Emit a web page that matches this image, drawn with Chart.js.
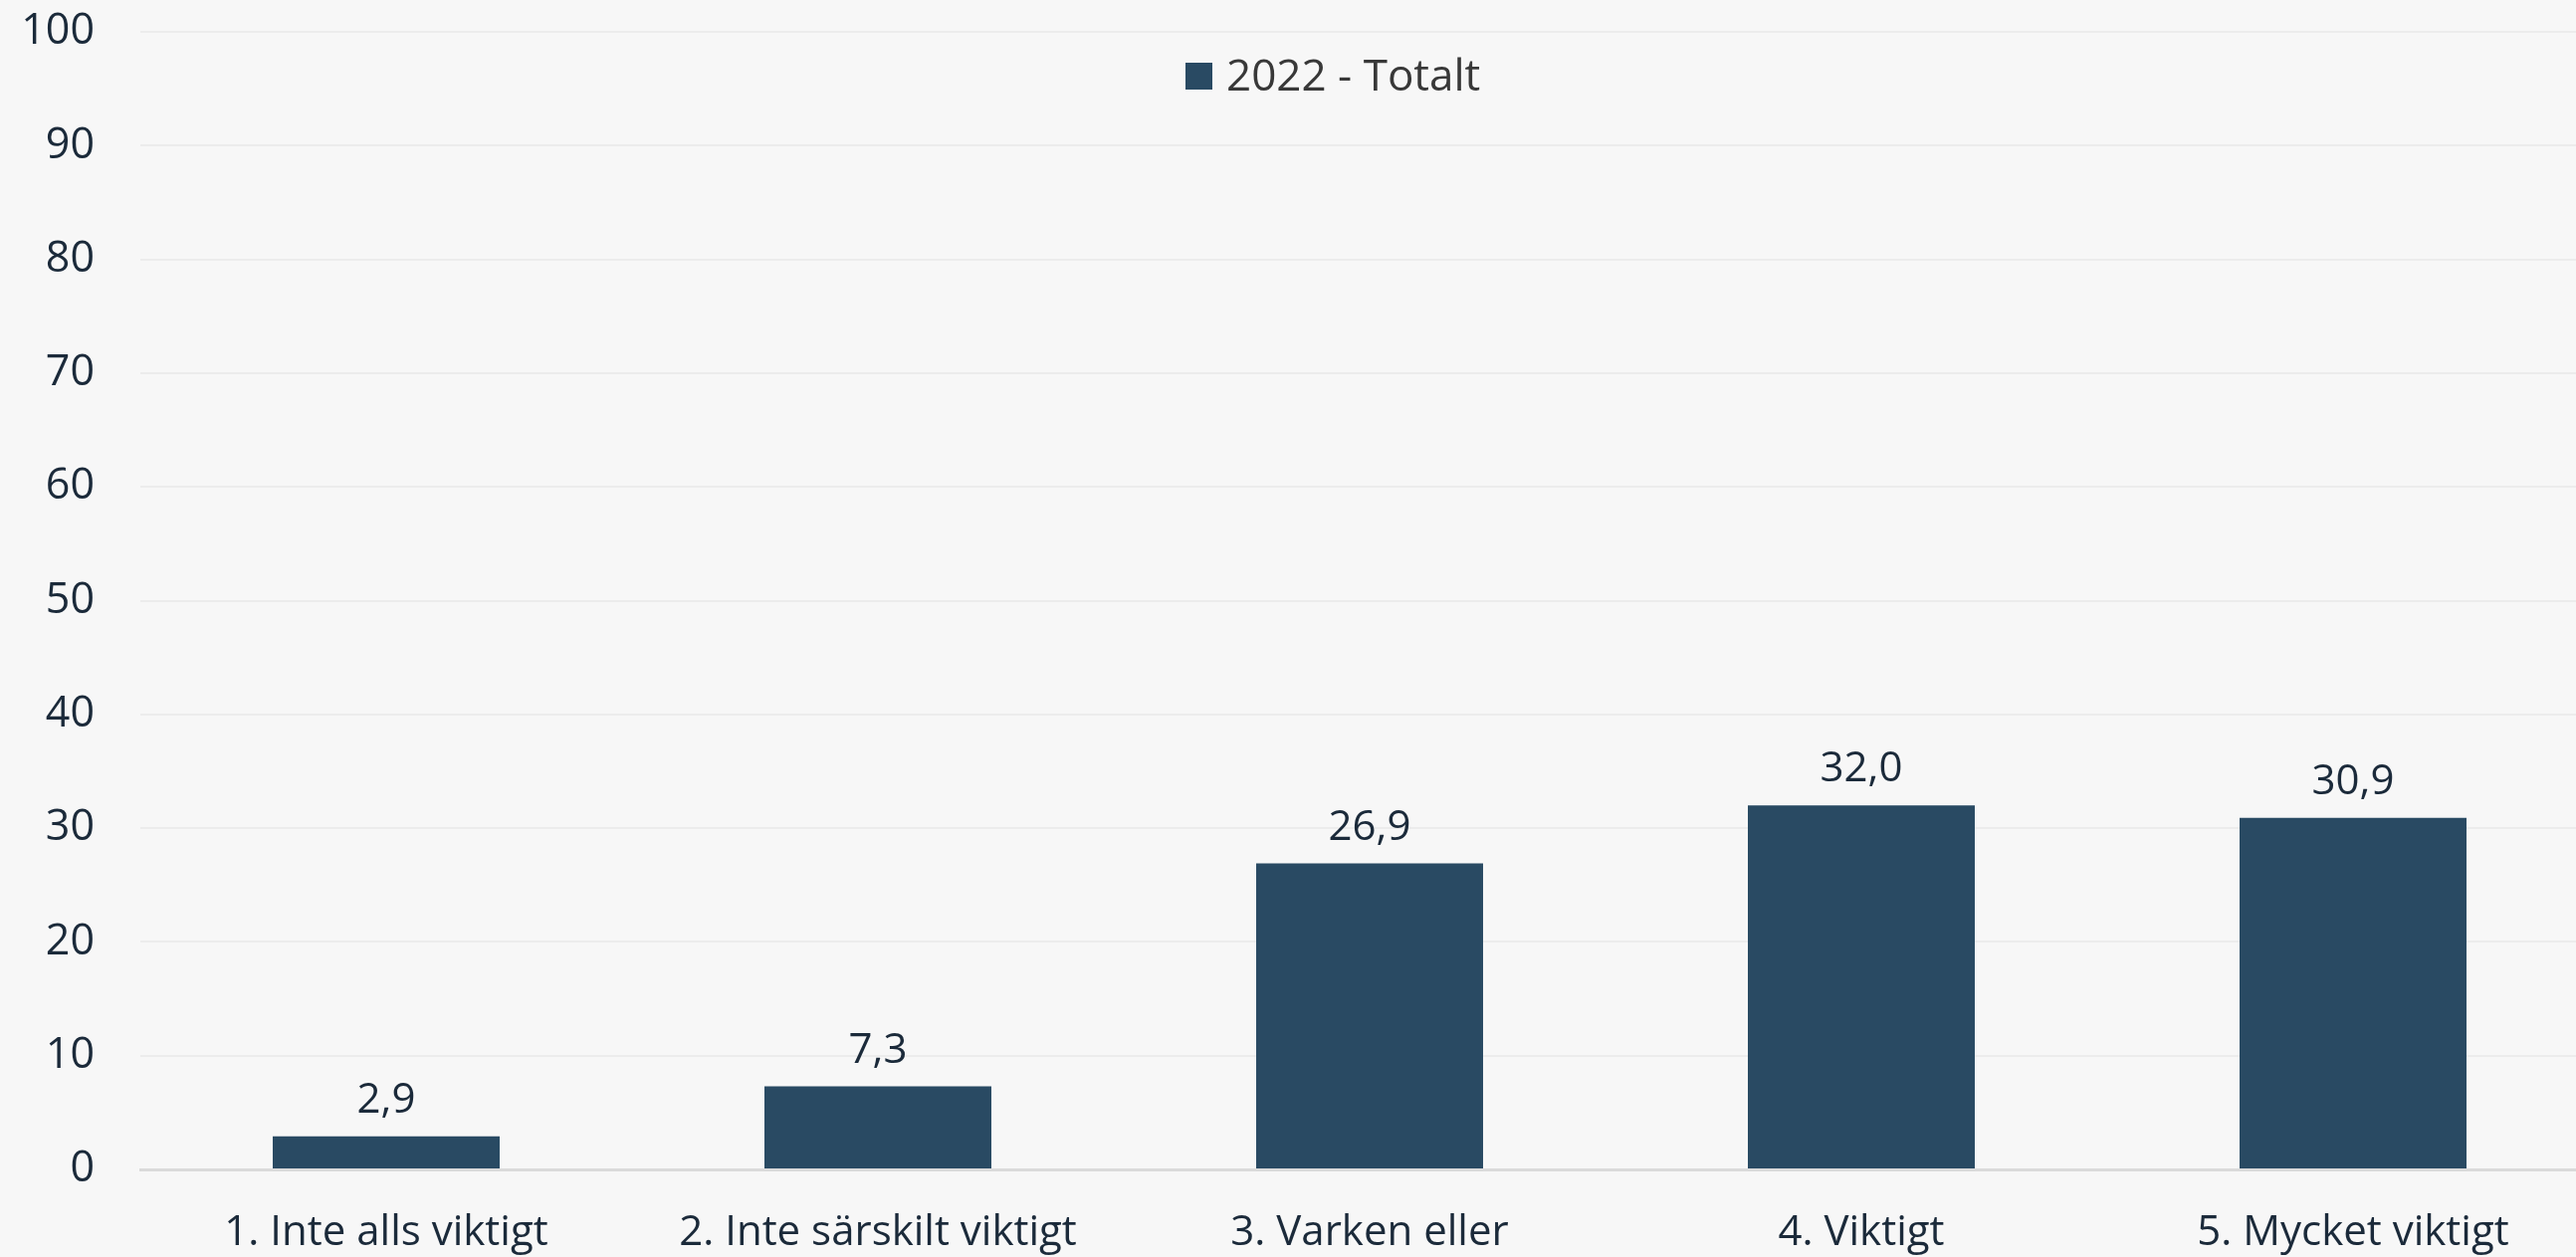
<!DOCTYPE html>
<html>
<head>
<meta charset="utf-8">
<script src="https://cdn.jsdelivr.net/npm/chart.js@4/dist/chart.umd.min.js"></script>
<style>
  html, body { margin: 0; padding: 0; background: #f7f7f7; overflow: hidden; }
  #wrap { width: 2611px; height: 1263px; }
</style>
</head>
<body>
<div id="wrap"><canvas id="chart" width="2611" height="1263"></canvas></div>
<script>
// data
const categories = ['1. Inte alls viktigt', '2. Inte särskilt viktigt', '3. Varken eller', '4. Viktigt', '5. Mycket viktigt'];
const seriesName = '2022 - Totalt';
const values2022 = [2.9, 7.3, 26.9, 32.0, 30.9];
const yTicks = [0, 10, 20, 30, 40, 50, 60, 70, 80, 90, 100];

const barColor = '#294a63';
const textColor = '#1b2a3a';
const fontName = '"Open Sans", "Noto Sans", sans-serif';

// etiketter ovanför staplarna
const valueLabels = {
    id: 'valueLabels',
    afterDatasetsDraw(chart) {
        const ctx = chart.ctx;
        const meta = chart.getDatasetMeta(0);
        ctx.save();
        ctx.font = '42px ' + fontName;
        ctx.fillStyle = textColor;
        ctx.textAlign = 'center';
        ctx.textBaseline = 'alphabetic';
        meta.data.forEach(function(bar, i) {
            const v = chart.data.datasets[0].data[i];
            ctx.fillText(v.toFixed(1).replace('.', ','), bar.x, bar.y - 24);
        });
        ctx.restore();
    }
};

// egen legend, placerad som i originalet
const simpleLegend = {
    id: 'simpleLegend',
    afterDraw(chart) {
        const ctx = chart.ctx;
        const ds = chart.data.datasets[0];
        ctx.save();
        ctx.fillStyle = ds.backgroundColor;
        ctx.fillRect(1191, 63, 27, 27);
        ctx.font = '44px ' + fontName;
        ctx.fillStyle = '#383838';
        ctx.textAlign = 'left';
        ctx.textBaseline = 'middle';
        ctx.fillText(ds.label, 1232, 78);
        ctx.restore();
    }
};

const ctx = document.getElementById('chart').getContext('2d');
new Chart(ctx, {
    type: 'bar',
    data: {
        labels: categories,
        datasets: [{
            label: seriesName,
            data: values2022,
            backgroundColor: barColor,
            barPercentage: 0.4615,
            categoryPercentage: 1.0
        }]
    },
    options: {
        responsive: false,
        animation: false,
        devicePixelRatio: 1,
        layout: { padding: { top: 32, right: 0, bottom: 0, left: 0 } },
        plugins: {
            legend: { display: false },
            tooltip: { enabled: false }
        },
        scales: {
            x: {
                grid: { display: false, drawTicks: false },
                border: { display: true, color: '#dadada', width: 3 },
                ticks: {
                    color: textColor,
                    font: { family: fontName, size: 42 },
                    padding: 39,
                    maxRotation: 0,
                    autoSkip: false
                },
                afterFit(scale) {
                    scale.height = 88;
                    scale.paddingLeft = 0;
                    scale.paddingRight = 0;
                }
            },
            y: {
                min: 0,
                max: 100,
                afterBuildTicks(scale) {
                    scale.ticks = yTicks.map(function(v) { return { value: v }; });
                },
                grid: { color: '#ececec', lineWidth: 2, drawTicks: false },
                border: { display: false },
                ticks: {
                    color: textColor,
                    font: { family: fontName, size: 43 },
                    padding: 46
                },
                afterFit(scale) {
                    scale.width = 141;
                    scale.paddingTop = 0;
                    scale.paddingBottom = 0;
                }
            }
        }
    },
    plugins: [valueLabels, simpleLegend]
});
</script>
</body>
</html>
